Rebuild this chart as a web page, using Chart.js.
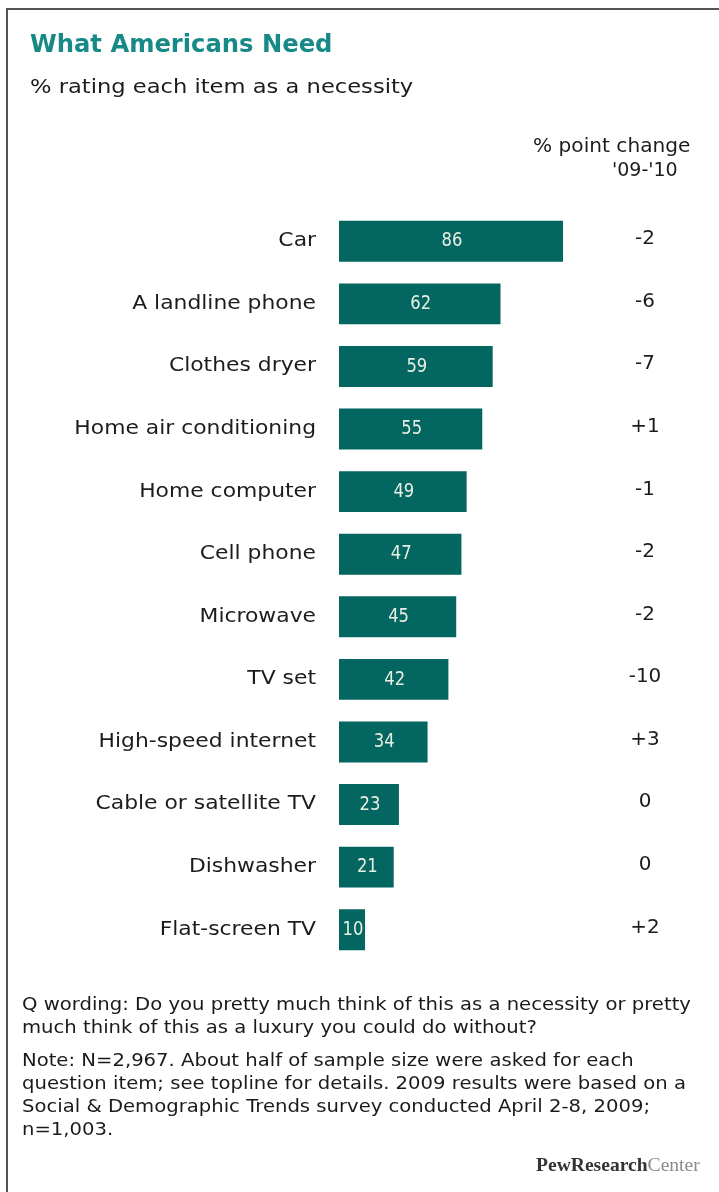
<!DOCTYPE html>
<html>
<head>
<meta charset="utf-8">
<script src="https://cdn.jsdelivr.net/npm/chart.js@4.4.1/dist/chart.umd.min.js"></script>
<style>
  html, body { margin: 0; padding: 0; background: #fff; }
  body { width: 719px; height: 1192px; position: relative; overflow: hidden; font-family: "DejaVu Sans", sans-serif; color: #1c1c1c; }
  #frame { position: absolute; left: 6px; top: 8px; width: 760px; height: 1300px; border-top: 2px solid #555; border-left: 2px solid #555; box-sizing: border-box; }
  #chart { position: absolute; left: 0; top: 0; }
  .t { position: absolute; white-space: nowrap; transform-origin: left top; }
  #title { left: 30px; top: 30px; font-size: 24px; font-weight: bold; color: #178a88; transform: scaleX(1.01); }
  #subtitle { left: 30px; top: 74px; font-size: 20px; transform: scaleX(1.13); }
  #hdr1 { left: 533px; top: 134px; font-size: 19px; transform: scaleX(1.06); }
  #hdr2 { left: 612px; top: 158px; font-size: 19px; transform: scaleX(1.0); }
  .note { left: 22px; font-size: 18px; transform: scaleX(1.09); color: #1a1a1a; }
  #logo { left: 536px; top: 1154px; font-family: "Liberation Serif", serif; font-size: 19px; transform: scaleX(1.03); }
  #logo b { color: #333; font-weight: bold; }
  #logo span { color: #8a8a8a; }
</style>
</head>
<body>
<div id="frame"></div>
<canvas id="chart" width="719" height="1192"></canvas>
<div class="t" id="title">What Americans Need</div>
<div class="t" id="subtitle">% rating each item as a necessity</div>
<div class="t" id="hdr1">% point change</div>
<div class="t" id="hdr2">'09-'10</div>
<div class="t note" style="top:993px">Q wording: Do you pretty much think of this as a necessity or pretty</div>
<div class="t note" style="top:1016px">much think of this as a luxury you could do without?</div>
<div class="t note" style="top:1049px">Note: N=2,967. About half of sample size were asked for each</div>
<div class="t note" style="top:1072px">question item; see topline for details. 2009 results were based on a</div>
<div class="t note" style="top:1095px">Social &amp; Demographic Trends survey conducted April 2-8, 2009;</div>
<div class="t note" style="top:1118px">n=1,003.</div>
<div class="t" id="logo"><b>PewResearch</b><span>Center</span></div>
<script>
// Items and share of adults rating each as a necessity (2010)
const items = [
  "Car", "A landline phone", "Clothes dryer", "Home air conditioning",
  "Home computer", "Cell phone", "Microwave", "TV set",
  "High-speed internet", "Cable or satellite TV", "Dishwasher", "Flat-screen TV"
];
const necessity = [86, 62, 59, 55, 49, 47, 45, 42, 34, 23, 21, 10];
// Percentage point change from 2009 to 2010
const changeLabels = ["-2", "-6", "-7", "+1", "-1", "-2", "-2", "-10", "+3", "0", "0", "+2"];

const BAR = "#036660";
const INK = "#1c1c1c";

function stretchedText(ctx, text, x, y, sx, align) {
  ctx.save();
  ctx.translate(x, y);
  ctx.scale(sx, 1);
  ctx.textAlign = align;
  ctx.fillText(text, 0, 0);
  ctx.restore();
}

// Category names, value inside each bar and the change column
const annotate = {
  id: "annotate",
  afterDatasetsDraw(chart) {
    const ctx = chart.ctx;
    const meta = chart.getDatasetMeta(0);
    const y = chart.scales.y;
    ctx.save();
    ctx.textBaseline = "middle";
    meta.data.forEach((bar, i) => {
      const cy = y.getPixelForValue(i);
      ctx.font = "19px 'DejaVu Sans'";
      ctx.fillStyle = INK;
      stretchedText(ctx, items[i], y.right - 23, cy, 1.15, "right");

      ctx.font = "20px 'DejaVu Sans'";
      ctx.fillStyle = "#e9efe2";
      stretchedText(ctx, String(necessity[i]), (bar.base + bar.x) / 2 + 1, bar.y, 0.82, "center");

      ctx.font = "19px 'DejaVu Sans'";
      ctx.fillStyle = INK;
      stretchedText(ctx, changeLabels[i], 645, cy - 2, 1.05, "center");
    });
    ctx.restore();
  }
};

new Chart(document.getElementById("chart"), {
  type: "bar",
  data: {
    labels: items,
    datasets: [{
      data: necessity,
      backgroundColor: BAR,
      borderWidth: 0,
      categoryPercentage: 1,
      barPercentage: 0.655
    }]
  },
  options: {
    indexAxis: "y",
    responsive: false,
    animation: false,
    layout: { padding: { top: 210, bottom: 231, right: 119.5, left: 0 } },
    plugins: { legend: { display: false }, tooltip: { enabled: false } },
    scales: {
      x: { display: false, min: 0, max: 100 },
      y: {
        afterFit(scale) { scale.width = 339; },
        grid: { display: false, drawTicks: false },
        border: { display: false },
        ticks: { display: false }
      }
    }
  },
  plugins: [annotate]
});
</script>
</body>
</html>
